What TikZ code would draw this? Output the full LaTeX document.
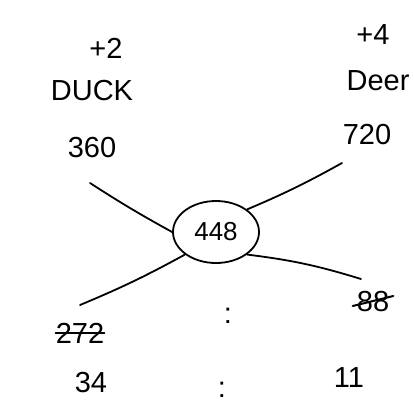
\documentclass[tikz,border=0pt]{standalone}
\usepackage{fontspec}
\setmainfont{Liberation Sans}
\usetikzlibrary{shapes.geometric}
\begin{document}
\begin{tikzpicture}[x=1pt,y=-1pt,
  lbl/.style={inner sep=0pt, font=\fontsize{29}{31}\selectfont},
  wire/.style={line width=1.8pt, line cap=round},
  strike/.style={line width=2pt, line cap=round}]
\useasboundingbox (0,0) rectangle (414,405);
% labels
\node[lbl] (p2) at (106,48) {+2};
\node[lbl] (duck) at (92,91) {DUCK};
\node[lbl] (n360) at (92,148) {360};
\node[lbl] (p4) at (373,35) {+4};
\node[lbl] (deer) at (378,81) {Deer};
\node[lbl] (n720) at (367,135) {720};
\node[lbl] (n272) at (80,333) {272};
\node[lbl] (n34) at (91,383) {34};
\node[lbl] (n88) at (373,302) {88};
\node[lbl] (n11) at (349,378) {11};
\node[lbl] (c1) at (228,316) {:};
\node[lbl] (c2) at (222,390) {:};
% center
\node[ellipse, draw, line width=1.8pt, minimum width=86pt, minimum height=62pt, inner sep=0pt,
      font=\fontsize{26}{28}\selectfont] (ctr) at (216,232) {448};
% connector ends
\coordinate (a360) at (90,183);
\coordinate (a720) at (342,163);
\coordinate (a272) at (80,305);
\coordinate (a88) at (361,279);
\draw[wire] (a360) to[bend right=2] (ctr.west);
\draw[wire] (a720) to[bend left=3] (ctr.north east);
\draw[wire] (ctr.south west) to[bend left=3] (a272);
\draw[wire] (ctr.south east) to[bend left=5] (a88);
% strike-throughs
\draw[strike] (n272.west) -- (n272.east);
\draw[strike] ([xshift=-4pt,yshift=-4pt]n88.west) -- ([xshift=4pt,yshift=6pt]n88.east);
\end{tikzpicture}
\end{document}
